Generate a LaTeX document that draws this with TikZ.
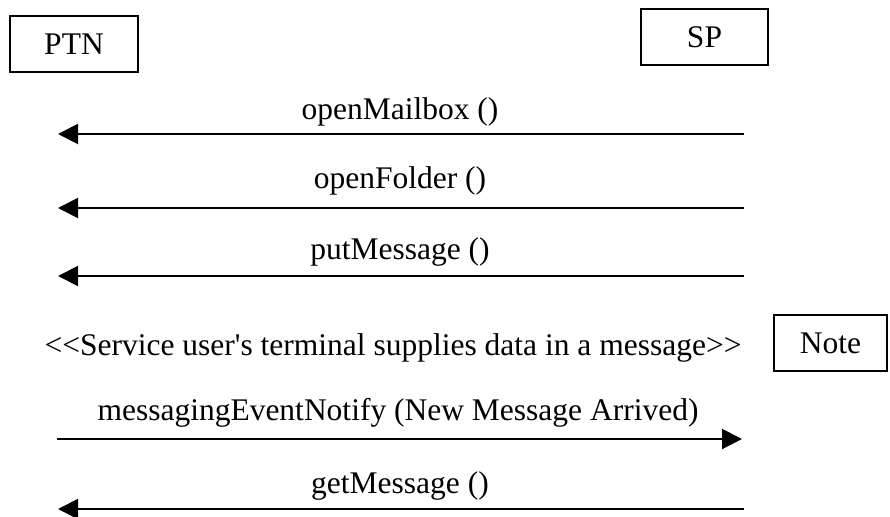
\documentclass[tikz,border=0pt]{standalone}
\usepackage{fontspec}
\setmainfont{Liberation Serif}
\usetikzlibrary{arrows.meta}
\begin{document}
\begin{tikzpicture}[x=1pt,y=-1pt,
  box/.style={draw,line width=1.8pt,inner sep=0pt,font=\fontsize{31.5}{36}\selectfont},
  msg/.style={line width=2pt,-{Triangle[length=20pt,width=20pt]}},
  lbl/.style={anchor=base,inner sep=0pt,font=\fontsize{31.5}{36}\selectfont}]
\useasboundingbox (0,0) rectangle (890,516);
\node[box,minimum width=128pt,minimum height=56pt] (ptn) at (74,44) {PTN};
\node[box,minimum width=127pt,minimum height=56pt] (sp) at (704.5,37) {SP};
\node[box,minimum width=113pt,minimum height=56pt] (note) at (830.5,343) {Note};
% message 1
\coordinate (r1) at (744,134); \coordinate (l1) at (58,134);
\draw[msg] (r1) -- (l1);
\node[lbl] (t1) at (400,119) {openMailbox ()};
% message 2
\coordinate (r2) at (744,208); \coordinate (l2) at (58,208);
\draw[msg] (r2) -- (l2);
\node[lbl] (t2) at (400,188) {openFolder ()};
% message 3
\coordinate (r3) at (744,276); \coordinate (l3) at (58,276);
\draw[msg] (r3) -- (l3);
\node[lbl] (t3) at (400,259) {putMessage ()};
% note text
\node[lbl] (nt) at (393,355) {<\kern0pt<Service user\textquotesingle s terminal supplies data in a message>\kern0pt>};
% message 5
\coordinate (l5) at (57,439); \coordinate (r5) at (742,439);
\draw[msg] (l5) -- (r5);
\node[lbl] (t5) at (398,420) {messagingEventNotify (New Message Arrived)};
% message 6
\coordinate (r6) at (744,509); \coordinate (l6) at (58,509);
\draw[msg] (r6) -- (l6);
\node[lbl] (t6) at (400,493) {getMessage ()};
\end{tikzpicture}
\end{document}
